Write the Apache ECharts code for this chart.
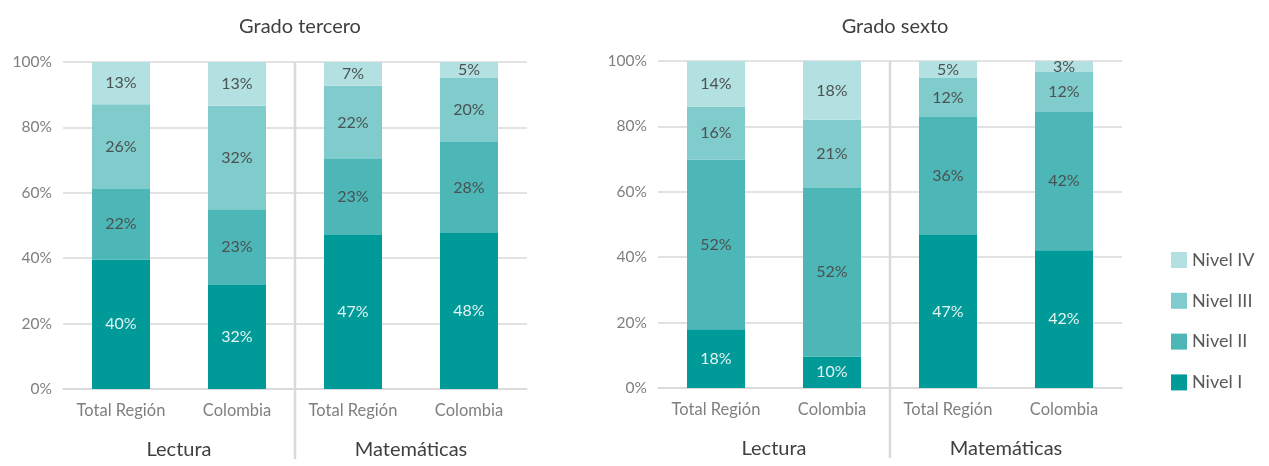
<!DOCTYPE html>
<html><head><meta charset="utf-8">
<script src="https://cdn.jsdelivr.net/npm/echarts@6/dist/echarts.min.js"></script>
<style>html,body{margin:0;padding:0;background:#fff}#c{width:1269px;height:466px}</style>
</head><body><div id="c"></div>
<script>
const categories = ['Total Región','Colombia','Total Región','Colombia'];
const groups = ['Lectura','Matemáticas'];
const titles = ['Grado tercero','Grado sexto'];
const levels = ['Nivel I','Nivel II','Nivel III','Nivel IV'];
const yTicks = [0,20,40,60,80,100];
// Grado tercero
const tercero_I   = [39.6, 31.8, 47.1, 47.7];
const tercero_II  = [21.6, 23.2, 23.2, 27.8];
const tercero_III = [25.9, 31.6, 22.4, 19.6];
const tercero_IV  = [12.9, 13.4, 7.3, 4.9];
// Grado sexto
const sexto_I   = [18.0, 9.6, 46.8, 42.1];
const sexto_II  = [51.8, 51.6, 36.1, 42.3];
const sexto_III = [16.2, 20.8, 11.9, 12.2];
const sexto_IV  = [14.0, 18.0, 5.2, 3.4];

const colors = ['#009a98','#4db6b6','#80cbcb','#b3e0e0'];
const labelColors = ['#e4f3f3','#4a5252','#4a5252','#4a5252'];
const FONT = 'Lato, "Open Sans", sans-serif';

const chart = echarts.init(document.getElementById('c'));
const gridDefs = [{left:63, top:62, width:464, height:327},{left:658, top:61, width:464, height:327}];
const dataSets = [[tercero_I,tercero_II,tercero_III,tercero_IV],[sexto_I,sexto_II,sexto_III,sexto_IV]];

const series = [];
dataSets.forEach((ds, g) => {
  ds.forEach((vals, k) => {
    series.push({
      name: levels[k], type:'bar', stack:'s'+g,
      xAxisIndex: g*2, yAxisIndex: g,
      barWidth: '50%',
      itemStyle:{color: colors[k]},
      label:{show:true, position:'inside', color: labelColors[k], fontFamily: FONT, fontSize: 16,
        formatter: p => Math.round(p.value) + '%'},
      emphasis:{disabled:true},
      data: vals
    });
  });
});

const xAxes = [], yAxes = [];
[0,1].forEach(g => {
  xAxes.push({type:'category', gridIndex:g, data:categories,
    axisLine:{show:true, lineStyle:{color:'#d9d9d9', width:1.5}}, axisTick:{show:false},
    axisLabel:{color:'#7f7f7f', fontFamily:FONT, fontSize:16.5, margin:13}});
  xAxes.push({type:'category', gridIndex:g, data:groups, position:'bottom', offset:51,
    axisLine:{show:false}, axisTick:{show:false}, splitLine:{show:false},
    axisLabel:{color:'#404040', fontFamily:FONT, fontSize:20, margin:0}});
  yAxes.push({type:'value', gridIndex:g, min:0, max:100, interval:20,
    axisLine:{show:false}, axisTick:{show:false},
    splitLine:{lineStyle:{color:'#d9d9d9', width:1.5}},
    axisLabel:{color:'#7f7f7f', fontFamily:FONT, fontSize:15.5, margin:11, formatter: v => v + '%'}});
});

chart.setOption({
  animation:false,
  title: titles.map((t,g) => ({text:t, left: gridDefs[g].left + gridDefs[g].width/2, top: 12, textAlign:'center',
    textStyle:{color:'#404040', fontFamily:FONT, fontSize:20, fontWeight:'normal'}})),
  legend:{orient:'vertical', left:1166, top:246, itemWidth:16, itemHeight:16, itemGap:22.8,
    data:['Nivel IV','Nivel III','Nivel II','Nivel I'],
    textStyle:{color:'#595959', fontFamily:FONT, fontSize:18}, icon:'rect'},
  grid: gridDefs,
  xAxis: xAxes, yAxis: yAxes, series: series
});

// separators between Lectura and Matemáticas, located via the axes
const graphics = [];
[0,1].forEach(g => {
  const x1 = chart.convertToPixel({xAxisIndex:g*2}, 1);
  const x2 = chart.convertToPixel({xAxisIndex:g*2}, 2);
  const x = (x1 + x2)/2;
  const yTop = chart.convertToPixel({yAxisIndex:g}, 100);
  const yBot = chart.convertToPixel({yAxisIndex:g}, 0) + 70;
  graphics.push({type:'line', shape:{x1:x, y1:yTop, x2:x, y2:yBot}, style:{stroke:'#d9d9d9', lineWidth:2.5}, z:0});
});
chart.setOption({graphic: graphics});
</script>
</body></html>
